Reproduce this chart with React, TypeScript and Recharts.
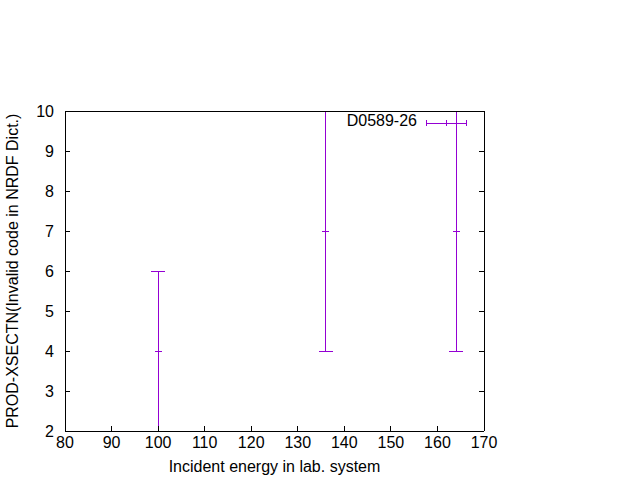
import React from 'react';
import { ScatterChart, Scatter, XAxis, YAxis, ErrorBar, Legend } from 'recharts';

const SERIES_NAME = 'D0589-26';
const energies = [100, 136, 164];
const xsect = [4, 7, 7];
const xsectErr = [2, 3, 3];
const xTicks = [80, 90, 100, 110, 120, 130, 140, 150, 160, 170];
const yTicks = [2, 3, 4, 5, 6, 7, 8, 9, 10];
const X_LABEL = 'Incident energy in lab. system';
const Y_LABEL = 'PROD-XSECTN(Invalid code in NRDF Dict.)';

const data = energies.map((e, i) => ({ x: e, y: xsect[i], err: xsectErr[i] }));

const COLOR = '#9400d3';
const FONT = '"Liberation Sans", Arial, sans-serif';
const FS = 16;

const CenterTick = (props: any) => {
  const { cx, cy } = props;
  if (cx == null || cy == null) return <g />;
  return <line x1={cx - 3.5} x2={cx + 3.5} y1={cy} y2={cy} stroke={COLOR} strokeWidth={1} />;
};

const LegendContent = (props: any) => {
  const p = props.payload && props.payload[0];
  const name = p ? p.value : SERIES_NAME;
  return (
    <svg width={150} height={26} style={{ display: 'block', shapeRendering: 'crispEdges' }}>
      <text x={77} y={16} textAnchor="end" fontFamily={FONT} fontSize={FS} fill="#000">{name}</text>
      <line x1={86} x2={126.5} y1={13} y2={13} stroke={COLOR} strokeWidth={1} />
      <line x1={86} x2={86} y1={10} y2={16} stroke={COLOR} strokeWidth={1} />
      <line x1={126.5} x2={126.5} y1={10} y2={16} stroke={COLOR} strokeWidth={1} />
      <line x1={106.5} x2={106.5} y1={10} y2={16} stroke={COLOR} strokeWidth={1} />
    </svg>
  );
};

const XLabel = (props: any) => {
  const vb = props.viewBox || {};
  return (
    <text x={vb.x + vb.width / 2} y={vb.y + 41} textAnchor="middle" fontFamily={FONT} fontSize={FS} fill="#000">{X_LABEL}</text>
  );
};

const YLabel = (props: any) => {
  const vb = props.viewBox || {};
  const x = vb.x + vb.width - 47;
  const y = vb.y + vb.height / 2;
  return (
    <text x={x} y={y} transform={`rotate(-90, ${x}, ${y})`} textAnchor="middle" fontFamily={FONT} fontSize={FS} fill="#000">{Y_LABEL}</text>
  );
};

const noTick = () => <g />;

export default function App() {
  return (
    <div style={{ position: 'absolute', left: 0, top: 0, width: 640, height: 480, background: '#fff' }}>
      <ScatterChart width={640} height={480} margin={{ top: 110, right: 155, bottom: 48, left: 64 }} style={{ shapeRendering: 'crispEdges' }}>
        <XAxis
          xAxisId="b"
          type="number"
          dataKey="x"
          domain={[80, 170]}
          ticks={xTicks}
          interval={0}
          allowDataOverflow
          height={1}
          tickSize={-5}
          tickMargin={11}
          stroke="#000"
          tick={{ fill: '#000', fontSize: FS, fontFamily: FONT }}
          label={<XLabel />}
        />
        <XAxis
          xAxisId="t"
          orientation="top"
          type="number"
          domain={[80, 170]}
          ticks={xTicks}
          interval={0}
          allowDataOverflow
          height={1}
          tickSize={-5}
          stroke="#000"
          tick={noTick}
        />
        <YAxis
          yAxisId="l"
          type="number"
          dataKey="y"
          domain={[2, 10]}
          ticks={yTicks}
          interval={0}
          allowDataOverflow
          width={1}
          tickSize={-5}
          tickMargin={16}
          stroke="#000"
          tick={{ fill: '#000', fontSize: FS, fontFamily: FONT }}
          label={<YLabel />}
        />
        <YAxis
          yAxisId="r"
          orientation="right"
          type="number"
          domain={[2, 10]}
          ticks={yTicks}
          interval={0}
          allowDataOverflow
          width={1}
          tickSize={-5}
          stroke="#000"
          tick={noTick}
        />
        <Legend
          layout="horizontal"
          verticalAlign="middle"
          align="center"
          content={<LegendContent />}
          wrapperStyle={{ position: 'absolute', left: 340, top: 110, width: 150, height: 26 }}
        />
        <Scatter
          name={SERIES_NAME}
          data={data}
          xAxisId="b"
          yAxisId="l"
          fill={COLOR}
          shape={<CenterTick />}
          isAnimationActive={false}
        >
          <ErrorBar dataKey="err" direction="y" width={7} stroke={COLOR} strokeWidth={1} isAnimationActive={false} />
        </Scatter>
      </ScatterChart>
    </div>
  );
}
